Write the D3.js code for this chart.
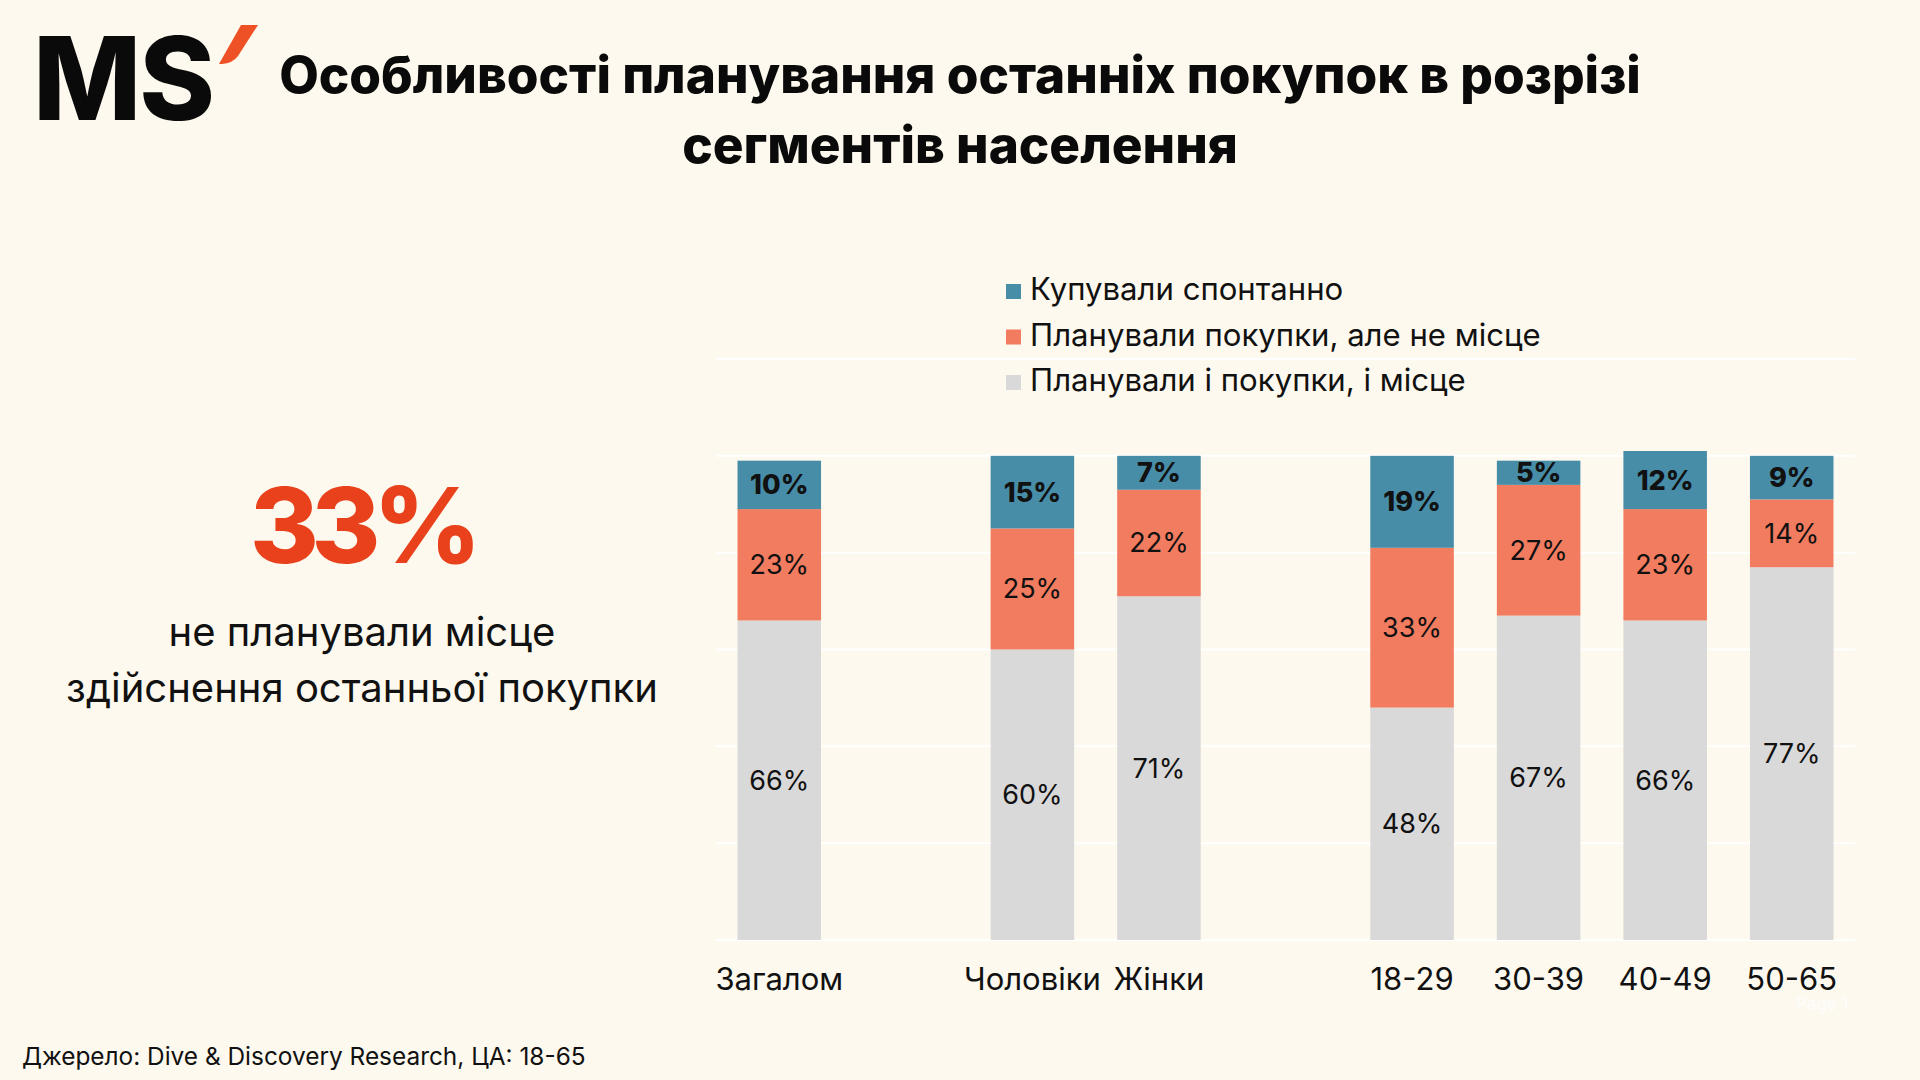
<!DOCTYPE html>
<html>
<head>
<meta charset="utf-8">
<script src="https://cdn.jsdelivr.net/npm/d3@7"></script>
<style>
  html, body { margin: 0; padding: 0; background: #fdf9ee; }
  svg { display: block; }
</style>
</head>
<body>
<svg id="chart" width="1920" height="1080"></svg>
<script>
// chart values
const categories     = ['Загалом', 'Чоловіки', 'Жінки', '18-29', '30-39', '40-49', '50-65'];
const slots          = ['Загалом', 'gap1', 'Чоловіки', 'Жінки', 'gap2', '18-29', '30-39', '40-49', '50-65'];
const plannedBoth    = [66, 60, 71, 48, 67, 66, 77];
const plannedBuyOnly = [23, 25, 22, 33, 27, 23, 14];
const spontaneous    = [10, 15, 7, 19, 5, 12, 9];
const seriesKeys     = ['both', 'buy', 'spont'];
const seriesNames    = ['Планували і покупки, і місце', 'Планували покупки, але не місце', 'Купували спонтанно'];
const yTicks         = [0, 20, 40, 60, 80, 100, 120];

const FONT   = 'Inter, "Noto Sans", sans-serif';
const colors = { both: '#d9d9d9', buy: '#f27c5f', spont: '#478da8' };

const svg = d3.select('#chart');
svg.append('rect').attr('width', 1920).attr('height', 1080).attr('fill', '#fdf9ee');

// shrink / grow a text so it spans the given width
function fit(t, w) {
  const fs = parseFloat(t.attr('font-size'));
  t.attr('font-size', fs * w / t.node().getComputedTextLength());
  return parseFloat(t.attr('font-size'));
}

// keep the font size, squeeze the letters instead
function squeeze(t, w) {
  const n = t.text().length;
  const extra = (w - t.node().getComputedTextLength()) / n;
  t.attr('letter-spacing', extra);
}

// ---- logo
const logo = svg.append('g');
const ms = logo.append('text').attr('x', 33).attr('y', 120)
  .attr('font-family', FONT).attr('font-weight', 800).attr('font-size', 110)
  .attr('fill', '#0a0a0a').attr('letter-spacing', -2).text('MS');
fit(ms, 180);
logo.append('path')
  .attr('d', 'M241,25 L258,25 L238,56 Q233,63 222,64 L219,64 Z')
  .attr('fill', '#ee5125');

// ---- title
const t1 = svg.append('text').attr('x', 960).attr('y', 93).attr('text-anchor', 'middle')
  .attr('font-family', FONT).attr('font-weight', 800).attr('font-size', 44)
  .attr('fill', '#0a0a0a').text('Особливості планування останніх покупок в розрізі');
const titleSize = fit(t1, 1362);
svg.append('text').attr('x', 960).attr('y', 163).attr('text-anchor', 'middle')
  .attr('font-family', FONT).attr('font-weight', 800).attr('font-size', titleSize)
  .attr('fill', '#0a0a0a').text('сегментів населення');

// ---- left highlight
const big = svg.append('text').attr('x', 362).attr('y', 563).attr('text-anchor', 'middle')
  .attr('font-family', FONT).attr('font-weight', 800).attr('font-size', 105)
  .attr('fill', '#e8411b').text('33%');
squeeze(big, 224);
const sub2 = svg.append('text').attr('x', 362).attr('y', 702).attr('text-anchor', 'middle')
  .attr('font-family', FONT).attr('font-size', 34).attr('fill', '#111')
  .text('здійснення останньої покупки');
const subSize = fit(sub2, 592);
svg.append('text').attr('x', 362).attr('y', 646).attr('text-anchor', 'middle')
  .attr('font-family', FONT).attr('font-size', subSize).attr('fill', '#111')
  .text('не планували місце');

// ---- chart
const x = d3.scaleBand().domain(slots).range([716, 1855]).paddingInner(0.34).paddingOuter(0.17);
const y = d3.scaleLinear().domain([0, 120]).range([940, 359]);

svg.append('g').selectAll('line').data(yTicks).join('line')
  .attr('x1', 716).attr('x2', 1855)
  .attr('y1', d => y(d)).attr('y2', d => y(d))
  .attr('stroke', '#ffffff').attr('stroke-width', 2);

const rows = categories.map((c, i) => ({
  cat: c, both: plannedBoth[i], buy: plannedBuyOnly[i], spont: spontaneous[i]
}));
const stacked = d3.stack().keys(seriesKeys)(rows);

const layer = svg.append('g').selectAll('g').data(stacked).join('g')
  .attr('fill', d => colors[d.key]);
layer.selectAll('rect').data(d => d).join('rect')
  .attr('x', d => x(d.data.cat))
  .attr('width', x.bandwidth())
  .attr('y', d => y(d[1]))
  .attr('height', d => y(d[0]) - y(d[1]));

// value labels, centred in their segment
svg.append('g').selectAll('g').data(stacked).join('g')
  .each(function(s) {
    d3.select(this).selectAll('text').data(s).join('text')
      .attr('x', d => x(d.data.cat) + x.bandwidth() / 2)
      .attr('y', d => (y(d[0]) + y(d[1])) / 2)
      .attr('text-anchor', 'middle').attr('dominant-baseline', 'central')
      .attr('font-family', FONT).attr('font-size', 27)
      .attr('font-weight', s.key === 'spont' ? 800 : 400)
      .attr('fill', '#111')
      .text(d => d.data[s.key] + '%');
  });

// category axis
const xAxis = svg.append('g').attr('transform', 'translate(0,990)')
  .call(d3.axisBottom(x).tickSize(0).tickPadding(0).tickFormat(d => categories.includes(d) ? d : ''));
xAxis.select('.domain').remove();
xAxis.selectAll('text').attr('font-family', FONT).attr('font-size', 31).attr('fill', '#111')
  .attr('dy', 0);

// ---- legend (top to bottom: spontaneous, buy only, both)
const legendOrder = [2, 1, 0];
const lg = svg.append('g').selectAll('g').data(legendOrder).join('g')
  .attr('transform', (d, i) => `translate(1006,${300 + i * 45.5})`);
lg.append('rect').attr('x', 0).attr('y', -16).attr('width', 15).attr('height', 15)
  .attr('fill', d => colors[seriesKeys[d]]);
const lgText = lg.append('text').attr('x', 24).attr('y', 0)
  .attr('font-family', FONT).attr('font-size', 28).attr('fill', '#111')
  .text(d => seriesNames[d]);
const lgSize = fit(d3.select(lgText.nodes()[1]), 511);
lgText.attr('font-size', lgSize);

// ---- source + page stamp
const src = svg.append('text').attr('x', 22).attr('y', 1065)
  .attr('font-family', FONT).attr('font-size', 22).attr('fill', '#111')
  .text('Джерело: Dive & Discovery Research, ЦА: 18-65');
fit(src, 564);
svg.append('text').attr('x', 1796).attr('y', 1010)
  .attr('font-family', FONT).attr('font-size', 17).attr('fill', '#ffffff').attr('opacity', 0.85)
  .text('Page 1');
</script>
</body>
</html>
